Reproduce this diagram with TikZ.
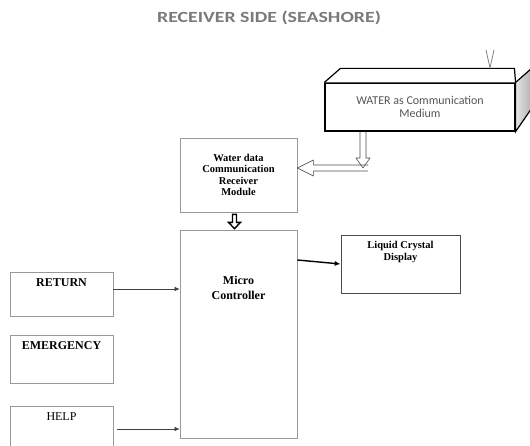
\documentclass[tikz,border=0pt]{standalone}
\usepackage{fontspec}
\setmainfont{Liberation Serif}
\newfontfamily\calibri{Carlito}
\usepackage{tikz}
\usetikzlibrary{arrows.meta,positioning,calc}
\definecolor{titlegray}{HTML}{7A7A7A}
\definecolor{textgray}{HTML}{555555}
\tikzset{
	box/.style={
		draw=gray!80,
		line width=0.7pt,
		inner sep=0pt,
		align=center
	},
	keybox/.style={
		box,
		minimum width=103pt
	},
	toptext/.style={
		anchor=north,
		yshift=-3pt,
		align=center
	}
}

\begin{document}
\begin{tikzpicture}[
	x=1pt, y=-1pt,
	hollow/.style={line width=0.6pt, gray!60!black, line join=round},
	blockarrow/.style={line width=1.4pt, line join=miter},
	inarrow/.style={line width=0.6pt, gray!50!black, -{Latex[length=5pt,width=4.5pt]}},
	lcdarrow/.style={line width=1.4pt, -{Latex[length=6pt,width=5pt]}}
]
\useasboundingbox (0,0) rectangle (530,446);
\node[font=\calibri\fontsize{15.5}{18}\selectfont\bfseries, text=titlegray] (title) at (269,18) {\scalebox{1.28}[1]{RECEIVER SIDE (SEASHORE)}};

% water cuboid
\node[draw, line width=1.2pt, minimum width=190pt, minimum height=48pt, align=center,
	font=\calibri\fontsize{12}{13.5}\selectfont, text=textgray] (water) at (420,107)
	{WATER as Communication\\Medium};
\draw[line width=1.2pt, fill=white] (water.north west) -- ++(16,-14) -- ++(174,0) -- (water.north east);
\draw[line width=1.2pt, left color=gray!20, right color=gray!60] (water.north east) -- ++(16,-14) -- ++(0,40) -- (water.south east) -- cycle;
\coordinate (vtip) at (490,68);
\draw[line width=0.8pt, gray] (486,50) -- (vtip) -- (494,50);

\node[box, minimum width=117pt, minimum height=74pt, font=\fontsize{10.5}{11.5}\selectfont\bfseries] (recv) at (238.5,175)
	{Water data\\Communication\\Receiver\\Module};
\node[box, minimum width=117pt, minimum height=208pt,
	label={[yshift=-58pt,anchor=center,align=center,font=\fontsize{12}{15}\selectfont\bfseries]north:Micro\\Controller}] (micro) at (238.5,334) {};
\node[box, draw=gray!60!black, minimum width=119pt, minimum height=58pt,
	label={[toptext,font=\fontsize{10.5}{12}\selectfont\bfseries]north:Liquid Crystal\\Display}] (lcd) at (400.5,264) {};

\node[keybox, minimum height=44pt, label={[toptext,font=\fontsize{12}{14}\selectfont\bfseries]north:RETURN}] (ret) at (61.5,294) {};
\node[keybox, minimum height=48pt, label={[toptext,font=\fontsize{12}{14}\selectfont\bfseries]north:EMERGENCY}] (emerg) at (61.5,359) {};
\node[keybox, minimum height=46pt, label={[toptext,font=\fontsize{12}{14}\selectfont]north:HELP}] (help) at (61.5,429) {};

% connectors
\coordinate (wb) at ([xshift=-57pt]water.south);
\coordinate (bend) at (wb |- 0,168);
\coordinate (htip) at (recv.east |- bend);
\draw[hollow] ($(bend)+(5,-3)$) -- ($(htip)+(16,-3)$) -- ($(htip)+(16,-8)$) -- (htip)
	-- ($(htip)+(16,8)$) -- ($(htip)+(16,3)$) -- ($(bend)+(5,3)$);
\draw[hollow] ($(wb)+(-3,0)$) -- ($(bend)+(-3,-10)$) -- ($(bend)+(-7,-10)$) -- (bend)
	-- ($(bend)+(7,-10)$) -- ($(bend)+(3,-10)$) -- ($(wb)+(3,0)$);
\coordinate (dtop) at ([xshift=-4pt,yshift=-2pt]recv.south);
\coordinate (dtip) at ([yshift=1pt]dtop |- micro.north);
\draw[blockarrow] ($(dtop)+(-2,0)$) -- ($(dtop)+(-2,8)$) -- ($(dtop)+(-6,8)$) -- (dtip)
	-- ($(dtop)+(6,8)$) -- ($(dtop)+(2,8)$) -- ($(dtop)+(2,0)$) -- cycle;
\draw[lcdarrow] ([yshift=74pt]micro.east) -- (lcd.west);
\draw[inarrow] ([yshift=5pt]ret.east) -- ([yshift=5pt]ret.east -| micro.west);
\draw[inarrow] ([xshift=4pt]help.east) -- (help.east -| micro.west);
\end{tikzpicture}
\end{document}
